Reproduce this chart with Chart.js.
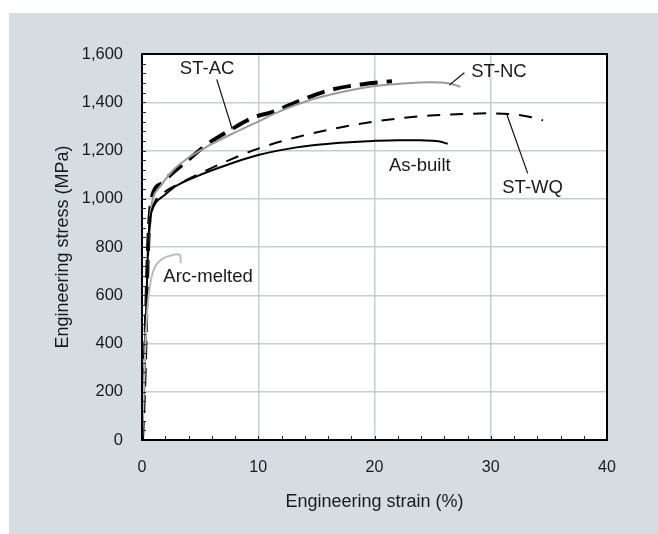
<!DOCTYPE html>
<html>
<head>
<meta charset="utf-8">
<script src="https://cdn.jsdelivr.net/npm/chart.js@4/dist/chart.umd.min.js"></script>
<style>
body { margin: 0; background: #fff; }
#wrap { position: absolute; left: 9px; top: 13px; width: 649px; height: 521px; background: #d5dde3; }
</style>
</head>
<body>
<div id="wrap"><canvas id="chart" width="649" height="521"></canvas></div>
<script>
// values: strain in %, stress in MPa
var asBuiltStrain = [0, 0.2, 0.35, 0.5, 0.65, 0.85, 1.2, 1.8, 3, 4.7, 7.3, 10, 13.3, 17, 20, 22, 24, 25.5, 26.3];
var asBuiltStress = [0, 250, 520, 780, 900, 950, 985, 1010, 1055, 1093, 1140, 1181, 1213, 1232, 1240, 1243, 1242, 1238, 1228];

var wqStrain = [0, 0.2, 0.35, 0.5, 0.65, 0.85, 1.2, 2, 3.3, 5, 7.5, 10, 13.3, 16.5, 20, 24.8, 28, 30, 32, 33.5, 34.5];
var wqStress = [0, 230, 480, 740, 880, 950, 995, 1030, 1065, 1105, 1160, 1208, 1255, 1290, 1320, 1345, 1352, 1354, 1350, 1338, 1325];

var ncStrain = [0, 0.2, 0.35, 0.5, 0.65, 0.8, 1.0, 1.55, 2.7, 4, 5.85, 8, 10, 12, 14.2, 17, 20, 22.5, 24.8, 26.5, 27.4];
var ncStress = [0, 240, 500, 760, 900, 970, 1010, 1050, 1119, 1170, 1223, 1275, 1320, 1365, 1405, 1440, 1467, 1478, 1483, 1478, 1464];

var acStrain = [0, 0.2, 0.35, 0.5, 0.65, 0.8, 1.0, 1.7, 2.7, 3.8, 5.5, 7.6, 9.5, 11.3, 13.5, 16.2, 19, 21.5];
var acStress = [0, 240, 500, 770, 920, 990, 1030, 1065, 1110, 1154, 1222, 1285, 1335, 1361, 1405, 1451, 1475, 1487];

var arcStrain = [0, 0.15, 0.3, 0.45, 0.6, 0.8, 1.12, 1.83, 2.5, 3.0, 3.3, 3.33];
var arcStress = [0, 200, 400, 530, 610, 670, 718, 753, 765, 770, 765, 733];

var xTicks = [0, 10, 20, 30, 40];
var yTicks = [0, 200, 400, 600, 800, 1000, 1200, 1400, 1600];

function pts(xs, ys) {
  return xs.map(function (x, i) { return { x: x, y: ys[i] }; });
}

var font = 'Liberation Sans, Arial, sans-serif';

// labels with leader lines, placed in data units
var notes = [
  { text: 'ST-AC', x: 5.6, y: 1538, line: [6.43, 1495, 7.77, 1288] },
  { text: 'ST-NC', x: 30.7, y: 1525, line: [27.73, 1522, 26.43, 1471] },
  { text: 'As-built', x: 23.9, y: 1136 },
  { text: 'ST-WQ', x: 33.6, y: 1045, line: [31.37, 1351, 33.18, 1105] },
  { text: 'Arc-melted', x: 5.68, y: 676 }
];

var extras = {
  id: 'extras',
  beforeDraw: function (chart) {
    var a = chart.chartArea;
    chart.ctx.save();
    chart.ctx.fillStyle = '#fff';
    chart.ctx.fillRect(a.left, a.top, a.right - a.left, a.bottom - a.top);
    chart.ctx.restore();
  },
  afterDraw: function (chart) {
    var ctx = chart.ctx, a = chart.chartArea;
    var xs = chart.scales.x, ys = chart.scales.y;
    ctx.save();
    // minor ticks pointing inward
    ctx.strokeStyle = '#222';
    ctx.lineWidth = 1;
    ctx.beginPath();
    for (var v = 2; v < 40; v += 2) {
      var px = Math.round(xs.getPixelForValue(v)) + 0.5;
      ctx.moveTo(px, a.bottom);
      ctx.lineTo(px, a.bottom - 4);
    }
    for (var w = 40; w < 1600; w += 40) {
      var py = Math.round(ys.getPixelForValue(w)) + 0.5;
      ctx.moveTo(a.left, py);
      ctx.lineTo(a.left + 4, py);
    }
    ctx.stroke();
    // frame
    ctx.strokeStyle = '#000';
    ctx.lineWidth = 2;
    ctx.strokeRect(a.left, a.top, a.right - a.left, a.bottom - a.top);
    // notes
    ctx.fillStyle = '#1a1a1a';
    ctx.font = '18.5px ' + font;
    ctx.textAlign = 'center';
    ctx.textBaseline = 'middle';
    ctx.lineWidth = 1.2;
    ctx.strokeStyle = '#111';
    notes.forEach(function (n) {
      ctx.fillText(n.text, xs.getPixelForValue(n.x), ys.getPixelForValue(n.y));
      if (n.line) {
        ctx.beginPath();
        ctx.moveTo(xs.getPixelForValue(n.line[0]), ys.getPixelForValue(n.line[1]));
        ctx.lineTo(xs.getPixelForValue(n.line[2]), ys.getPixelForValue(n.line[3]));
        ctx.stroke();
      }
    });
    ctx.restore();
  }
};

new Chart(document.getElementById('chart'), {
  type: 'scatter',
  data: {
    datasets: [
      { label: 'Arc-melted', data: pts(arcStrain, arcStress), borderColor: '#bdbdbd', borderWidth: 2 },
      { label: 'As-built', data: pts(asBuiltStrain, asBuiltStress), borderColor: '#000', borderWidth: 2 },
      { label: 'ST-WQ', data: pts(wqStrain, wqStress), borderColor: '#000', borderWidth: 2, borderDash: [13, 10] },
      { label: 'ST-NC', data: pts(ncStrain, ncStress), borderColor: '#9a9a9a', borderWidth: 2 },
      { label: 'ST-AC', data: pts(acStrain, acStress), borderColor: '#000', borderWidth: 4, borderDash: [18, 9] }
    ]
  },
  options: {
    responsive: false,
    animation: false,
    devicePixelRatio: 1,
    showLine: true,
    layout: { padding: { top: 41, right: 51, left: 0, bottom: 0 } },
    elements: {
      point: { radius: 0, hoverRadius: 0 },
      line: { cubicInterpolationMode: 'monotone', fill: false }
    },
    plugins: { legend: { display: false }, tooltip: { enabled: false } },
    scales: {
      x: {
        type: 'linear', min: 0, max: 40,
        afterBuildTicks: function (s) { s.ticks = xTicks.map(function (v) { return { value: v }; }); },
        afterFit: function (s) { s.height = 94; },
        ticks: { color: '#1a1a1a', font: { family: font, size: 16 }, padding: 18 },
        grid: { color: '#c6ccd4', lineWidth: 1.5, drawTicks: false },
        border: { display: false },
        title: { display: true, text: 'Engineering strain (%)', color: '#1a1a1a', font: { family: font, size: 18 }, padding: { top: 21, bottom: 21 } }
      },
      y: {
        type: 'linear', min: 0, max: 1600,
        afterBuildTicks: function (s) { s.ticks = yTicks.map(function (v) { return { value: v }; }); },
        afterFit: function (s) { s.width = 133; },
        ticks: {
          color: '#1a1a1a', font: { family: font, size: 16.5 }, padding: 19,
          callback: function (v) { return v.toLocaleString('en-US'); }
        },
        grid: { color: '#c6ccd4', lineWidth: 1.5, drawTicks: false },
        border: { display: false },
        title: { display: true, text: 'Engineering stress (MPa)', color: '#1a1a1a', font: { family: font, size: 18 }, padding: { top: 43, bottom: 43 } }
      }
    }
  },
  plugins: [extras]
});
</script>
</body>
</html>
